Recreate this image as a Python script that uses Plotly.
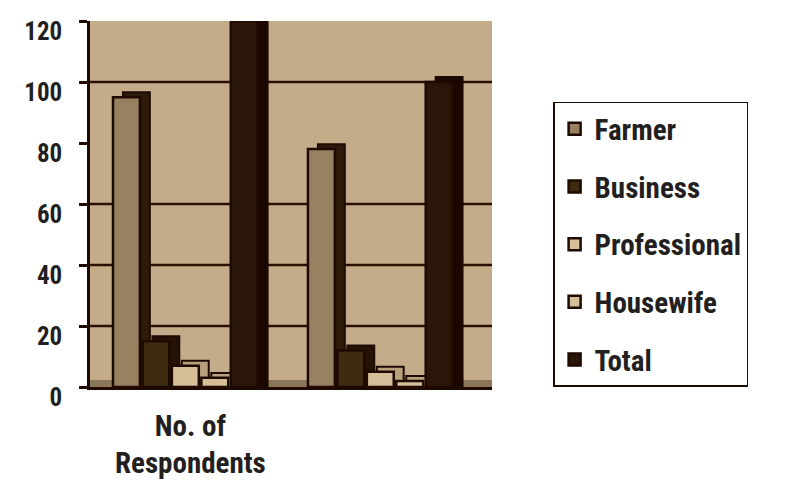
import plotly.graph_objects as go

groups = [0, 1]
group_labels = ["No. of<br>Respondents"]
series_names = ["Farmer", "Business", "Professional", "Housewife", "Total"]
farmer = [95, 78]
business = [15, 12]
professional = [7, 5]
housewife = [3, 2]
total = [120, 100]
series_values = [farmer, business, professional, housewife, total]
colors = ["#978160", "#3d2b10", "#d6be98", "#d6be98", "#2a1608"]
side_colors = ["#2e1a08", "#241204", "#b8a07c", "#b8a07c", "#1a0800"]
y_ticks = [0, 20, 40, 60, 80, 100, 120]
grid_values = [20, 40, 60, 100]

FONT = "Roboto Condensed"
TXT = "#231f20"
DARK = "#1e0a00"

# layout of the pseudo-3D bars (in x-axis category units)
START = -0.397
SLOT = 0.151
FRONT_W = 0.138
DEPTH_X = 0.051
DEPTH_Y = 1.6
FLOOR_H = 2.3

fig = go.Figure()
for i, (name, vals, col, scol) in enumerate(zip(series_names, series_values, colors, side_colors)):
    off = START + i * SLOT
    fig.add_trace(go.Bar(
        x=groups, y=[v + DEPTH_Y for v in vals], offset=off + DEPTH_X, width=FRONT_W,
        marker=dict(color=scol, line=dict(color=DARK, width=2)),
        showlegend=False, hoverinfo="skip",
    ))
    fig.add_trace(go.Bar(
        x=groups, y=vals, name=name, offset=off, width=FRONT_W,
        marker=dict(color=col, line=dict(color=DARK, width=2.5)),
        legendgroup=name,
    ))

for gv in grid_values:
    fig.add_shape(type="line", xref="paper", yref="y", x0=0, x1=1, y0=gv, y1=gv,
                  line=dict(color="#2a1000", width=2.5), layer="below")
fig.add_shape(type="rect", xref="paper", yref="y", x0=0, x1=1, y0=0, y1=FLOOR_H,
              fillcolor="#8a7658", line=dict(width=0), layer="below")

fig.update_layout(
    width=781, height=481,
    margin=dict(l=82, r=297, t=9, b=99),
    paper_bgcolor="white",
    plot_bgcolor="#c4ac8b",
    barmode="overlay",
    showlegend=True,
    font=dict(family=FONT, color=TXT),
    xaxis=dict(
        range=[-0.515, 1.547],
        tickvals=[0], ticktext=group_labels,
        ticks="", showgrid=False, zeroline=False,
        showline=True, linecolor=DARK, linewidth=2.5,
        tickfont=dict(family=FONT, size=29, color=TXT, weight="bold"),
        ticklabelstandoff=11,
    ),
    yaxis=dict(
        range=[0, 120],
        tickvals=y_ticks,
        showgrid=False, zeroline=False,
        showline=True, linecolor=DARK, linewidth=2.5,
        ticks="outside", ticklen=8, tickwidth=2.5, tickcolor=DARK,
        tickfont=dict(family=FONT, size=25, color=TXT, weight="bold"),
        ticklabelstandoff=12,
        ticklabelshift=10,
        ticklabeloverflow="allow",
    ),
    legend=dict(
        x=1.152, y=0.779, xanchor="left", yanchor="top",
        bgcolor="white", bordercolor=DARK, borderwidth=1.5,
        font=dict(family=FONT, size=29, color=TXT, weight="bold"),
        tracegroupgap=17,
        itemwidth=30,
    ),
)

fig.write_html("out.html")
